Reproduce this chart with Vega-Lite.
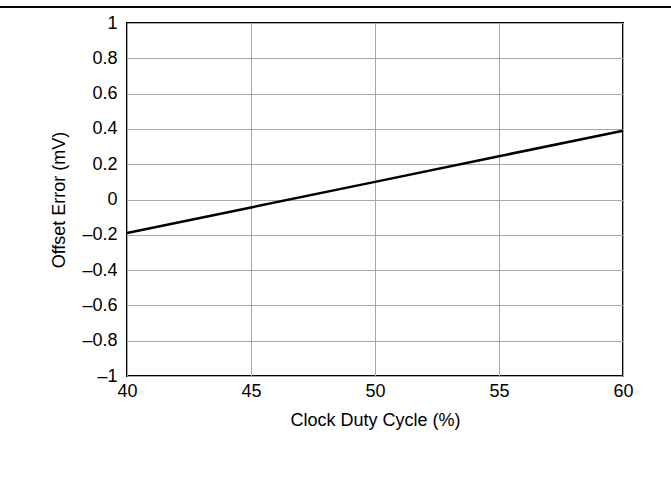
{
  "$schema": "https://vega.github.io/schema/vega-lite/v6.json",
  "width": 496,
  "height": 353,
  "autosize": {"type": "none"},
  "padding": {"left": 127, "top": 23, "right": 48, "bottom": 101},
  "config": {
    "font": "Liberation Sans",
    "view": {"stroke": "black", "strokeWidth": 2}
  },
  "data": {
    "values": [
      {"duty": 40, "offset": -0.19},
      {"duty": 45, "offset": -0.045},
      {"duty": 50, "offset": 0.1},
      {"duty": 55, "offset": 0.245},
      {"duty": 60, "offset": 0.39}
    ]
  },
  "layer": [
    {
      "mark": {"type": "line", "color": "black", "strokeWidth": 2.5},
      "encoding": {
        "x": {
          "field": "duty",
          "type": "quantitative",
          "scale": {"domain": [40, 60], "nice": false},
          "axis": {
            "values": [40, 45, 50, 55, 60],
            "tickCount": 5,
            "title": "Clock Duty Cycle (%)",
            "grid": true, "gridColor": "#a8a8a8", "gridWidth": 1,
            "domain": false, "ticks": false,
            "labelOverlap": false, "labelFlush": false,
            "labelFont": "Liberation Sans", "labelFontSize": 18, "labelColor": "black",
            "titleFont": "Liberation Sans", "titleFontSize": 18, "titleFontWeight": "normal", "titleColor": "black",
            "labelPadding": 6, "titlePadding": 11
          }
        },
        "y": {
          "field": "offset",
          "type": "quantitative",
          "scale": {"domain": [-1, 1], "nice": false},
          "axis": {
            "values": [-1, -0.8, -0.6, -0.4, -0.2, 0, 0.2, 0.4, 0.6, 0.8, 1],
            "tickCount": 11,
            "labelExpr": "replace(format(datum.value, ''), '−', '–')",
            "title": "Offset Error (mV)",
            "grid": true, "gridColor": "#a8a8a8", "gridWidth": 1,
            "domain": false, "ticks": false,
            "labelOverlap": false, "labelFlush": false,
            "labelFont": "Liberation Sans", "labelFontSize": 18, "labelColor": "black",
            "titleFont": "Liberation Sans", "titleFontSize": 18, "titleFontWeight": "normal", "titleColor": "black",
            "labelPadding": 10,
            "titlePadding": 13
          }
        }
      }
    },
    {
      "mark": {"type": "rule", "color": "black", "strokeWidth": 1.5, "clip": false},
      "encoding": {
        "y": {"datum": 1.09},
        "x": {"datum": 34.88},
        "x2": {"datum": 61.94}
      }
    }
  ]
}
